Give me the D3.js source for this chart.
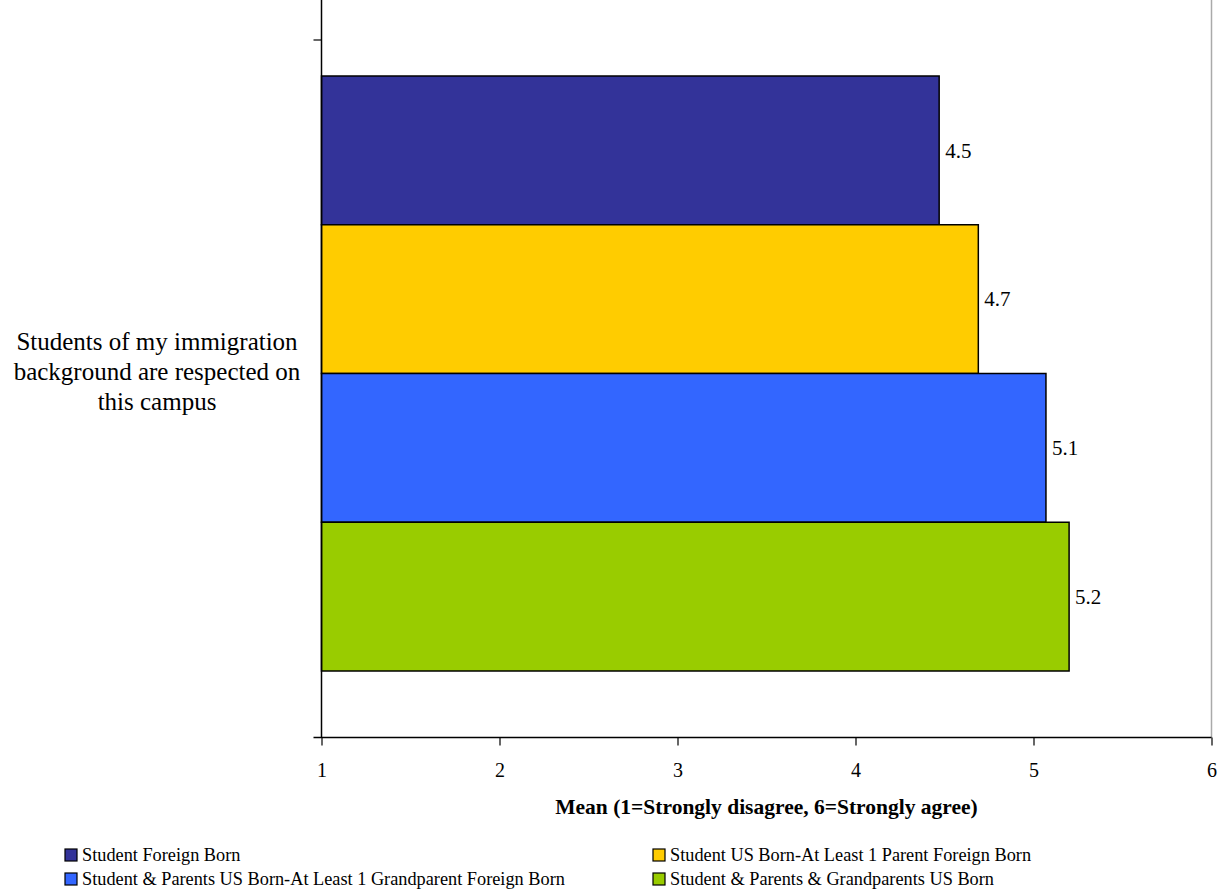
<!DOCTYPE html>
<html><head><meta charset="utf-8">
<script src="https://cdn.jsdelivr.net/npm/d3@7"></script>
<style>
html,body{margin:0;padding:0;background:#fff;}
text{font-family:"Liberation Serif","Times New Roman",serif;fill:#000;}
</style></head>
<body>
<svg id="chart" width="1227" height="896"></svg>
<script>
const categoryLines = ["Students of my immigration", "background are respected on", "this campus"];
const seriesNames = [
  "Student Foreign Born",
  "Student US Born-At Least 1 Parent Foreign Born",
  "Student & Parents US Born-At Least 1 Grandparent Foreign Born",
  "Student & Parents & Grandparents US Born"
];
const seriesValues = [4.47, 4.69, 5.07, 5.20];
const seriesLabels = ["4.5", "4.7", "5.1", "5.2"];
const seriesColors = ["#333399", "#FFCC00", "#3366FF", "#99CC00"];
const xTicks = [1, 2, 3, 4, 5, 6];
const xTitle = "Mean (1=Strongly disagree, 6=Strongly agree)";

const svg = d3.select("#chart");
const pLeft = 321.5, pRight = 1211.5, pTop = 0, pBottom = 737.5;
const catTop = 40, barTop = 76, barBottom = 671;

const x = d3.scaleLinear().domain([1, 6]).range([pLeft, pRight]);
const y = d3.scaleBand().domain(seriesNames).range([barTop, barBottom]).padding(0);

// plot area border (light gray right side)
svg.append("line").attr("x1", pRight).attr("x2", pRight).attr("y1", pTop).attr("y2", pBottom)
  .attr("stroke", "#aaa").attr("stroke-width", 1.5);

// bars
svg.selectAll("rect.bar").data(seriesValues).enter().append("rect")
  .attr("class", "bar")
  .attr("x", x(1))
  .attr("y", (d, i) => y(seriesNames[i]))
  .attr("width", d => x(d) - x(1))
  .attr("height", y.bandwidth())
  .attr("fill", (d, i) => seriesColors[i])
  .attr("stroke", "#000").attr("stroke-width", 1.5);

// value labels
svg.selectAll("text.val").data(seriesValues).enter().append("text")
  .attr("class", "val")
  .attr("x", d => x(d) + 6)
  .attr("y", (d, i) => y(seriesNames[i]) + y.bandwidth() / 2)
  .attr("dy", "0.35em")
  .attr("font-size", 21)
  .text((d, i) => seriesLabels[i]);

// x axis
const xAxis = d3.axisBottom(x).tickValues(xTicks).tickSize(8).tickPadding(17).tickFormat(d3.format("d"));
const gx = svg.append("g").attr("transform", `translate(0,${pBottom})`).call(xAxis);
gx.select(".domain").attr("stroke", "#000").attr("stroke-width", 1.5).attr("d", `M${pLeft - 8},0H${pRight}`);
gx.selectAll(".tick line").attr("stroke", "#000").attr("stroke-width", 1.2);
gx.selectAll(".tick text").attr("font-size", 20).attr("font-family", "Liberation Serif");

// y axis line with ticks
svg.append("line").attr("x1", pLeft).attr("x2", pLeft).attr("y1", pTop).attr("y2", pBottom)
  .attr("stroke", "#000").attr("stroke-width", 1.5);
svg.append("line").attr("x1", pLeft - 8).attr("x2", pLeft).attr("y1", catTop).attr("y2", catTop)
  .attr("stroke", "#000").attr("stroke-width", 1.2);

// category label
const cl = svg.append("text").attr("text-anchor", "middle").attr("font-size", 25)
  .attr("x", 157).attr("y", 350);
cl.selectAll("tspan").data(categoryLines).enter().append("tspan")
  .attr("x", 157).attr("dy", (d, i) => i === 0 ? 0 : 30).text(d => d);

// x title
svg.append("text").attr("x", (pLeft + pRight) / 2).attr("y", 814)
  .attr("text-anchor", "middle").attr("font-weight", "bold").attr("font-size", 21.5)
  .text(xTitle);

// legend
const legendPos = [[65, 855], [653, 855], [65, 879], [653, 879]];
const lg = svg.selectAll("g.leg").data(seriesNames).enter().append("g").attr("class", "leg")
  .attr("transform", (d, i) => `translate(${legendPos[i][0]},${legendPos[i][1]})`);
lg.append("rect").attr("x", 0).attr("y", -6).attr("width", 12).attr("height", 12)
  .attr("fill", (d, i) => seriesColors[i]).attr("stroke", "#000").attr("stroke-width", 1.2);
lg.append("text").attr("x", 17).attr("y", 0).attr("dy", "0.35em").attr("font-size", 18.3)
  .text(d => d);
</script>
</body></html>
